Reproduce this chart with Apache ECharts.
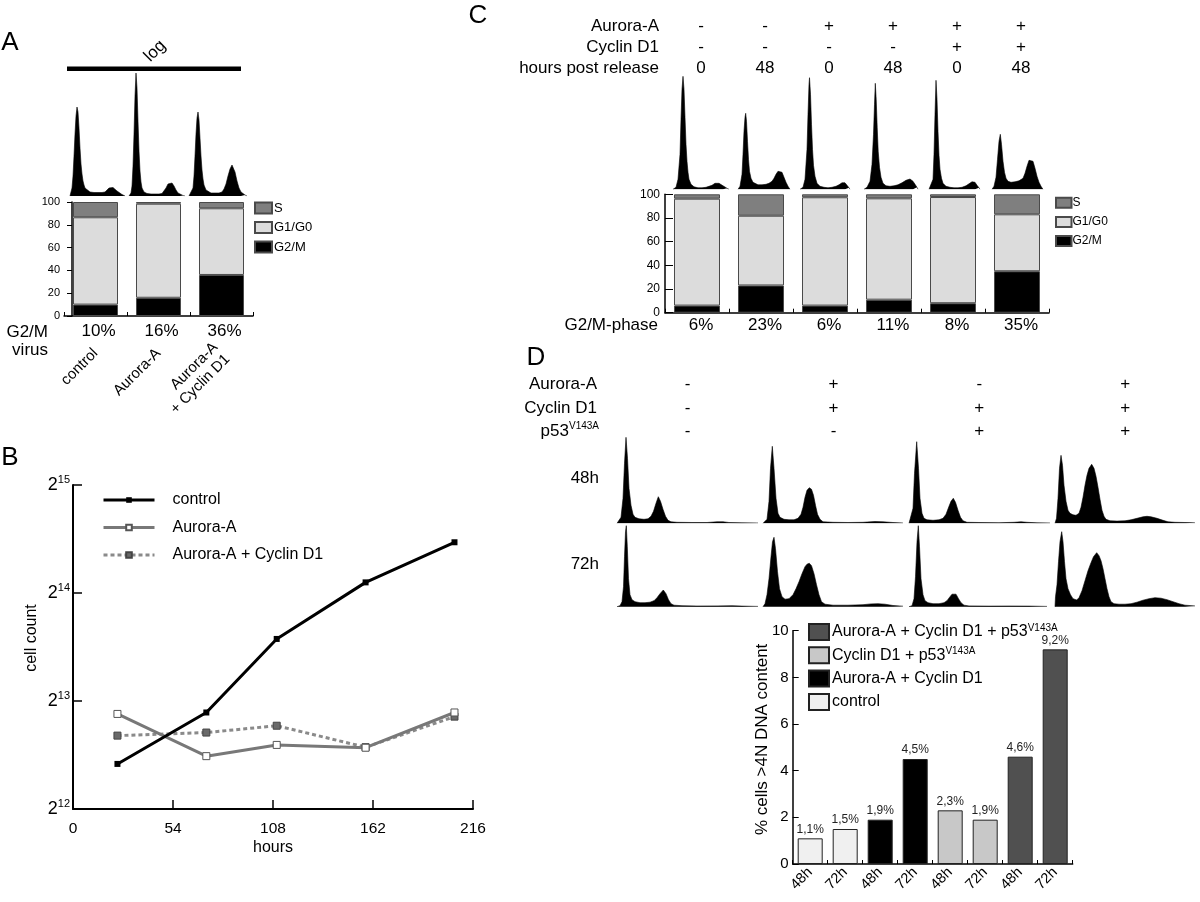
<!DOCTYPE html>
<html><head><meta charset="utf-8">
<script src="https://cdn.jsdelivr.net/npm/echarts@6/dist/echarts.min.js"></script>
<style>html,body{margin:0;padding:0;background:#fff}#c{width:1200px;height:902px}</style>
</head><body><div id="c"></div>
<script>
// ================= DATA =================
// ---- Panel A : cell-cycle distribution per virus ----
const aCategories = ['control', 'Aurora-A', 'Aurora-A\n+ Cyclin D1'];
const aG2M  = [10, 16, 36];
const aG1G0 = [76.6, 82.5, 58.5];
const aS    = [13.4, 1.5, 5.5];
const aG2MLabels = ['10%', '16%', '36%'];
const phaseNames = ['S', 'G1/G0', 'G2/M'];
// DNA histograms (channel, count) for panel A
const histA1 = [[0,0],[1,2],[2,8],[3,20],[4,40],[5,62],[6,80],[7,89],[8,84],[9,68],[10,48],[11,32],[12,22],[13,15],[14,11],[15,8],[17,6],[20,4],[24,3.5],[28,3.5],[32,3.5],[35,4],[37,6],[39,8],[41,9],[43,8.5],[45,7],[47,5],[49,3],[52,1.5],[55,0]];
const histA2 = [[0,0],[2,3],[3,10],[4,30],[5,62],[6,100],[7,123],[8,108],[9,75],[10,45],[11,25],[12,14],[13,8],[15,4],[18,2.5],[22,2],[26,2],[30,2],[33,2.5],[35,4],[37,8],[39,12],[41,14],[43,13],[45,10],[47,6],[49,3],[51,1.5],[54,0.5],[56,0]];
const histA3 = [[0,0],[2,2],[4,8],[5,20],[6,40],[7,62],[8,78],[9,84],[10,76],[11,58],[12,40],[13,26],[14,17],[15,11],[17,6],[19,4],[22,3],[26,3],[30,3],[33,4],[35,7],[37,12],[39,20],[41,27],[43,31],[44,30],[46,24],[48,15],[50,8],[52,4],[54,2],[56,1],[58,0]];

// ---- Panel B : growth curves ----
const bHours = [24, 72, 110, 158, 206];
const bControl      = [5470, 7610, 12200, 17540, 22690];
const bAurora       = [7540, 5750, 6180, 6070, 7610];
const bAuroraCyclin = [6560, 6690, 6990, 6090, 7410];
const bSeriesNames  = ['control', 'Aurora-A', 'Aurora-A + Cyclin D1'];
const bXTicks = [0, 54, 108, 162, 216];
const bYExponents = ['12', '13', '14', '15'];

// ---- Panel C : release from arrest ----
const cRowNames = ['Aurora-A', 'Cyclin D1', 'hours post release'];
const cAurora = ['-', '-', '+', '+', '+', '+'];
const cCyclin = ['-', '-', '-', '-', '+', '+'];
const cHours  = ['0', '48', '0', '48', '0', '48'];
const cG2M  = [6, 23, 6, 11, 8, 35];
const cG1G0 = [90.3, 58.9, 91.5, 85.6, 89.7, 48.1];
const cS    = [3.7, 18.1, 2.5, 3.4, 2.3, 16.9];
const cG2MLabels = ['6%', '23%', '6%', '11%', '8%', '35%'];
const histC1 = [[0,0],[3,2],[5,10],[7,35],[8,70],[9,100],[10,113],[11,100],[12,72],[13,45],[14,28],[15,17],[16,10],[18,5],[21,2.5],[25,1.5],[29,1.5],[33,2],[36,3],[39,4],[42,6],[44,6.7],[46,6],[48,5],[50,3.5],[52,2],[54,1],[56,0]];
const histC2 = [[0,0],[2,3],[4,15],[5,35],[6,58],[7,72],[7.7,76],[8.5,68],[9.5,48],[10.5,30],[11.5,18],[13,11],[15,7],[17,5],[20,4.5],[24,4.5],[28,5],[31,6],[34,8],[36,11],[38,15],[40,18],[42,19.3],[44,17],[46,12],[48,7],[50,3],[52,0]];
const histC3 = [[0,0],[3,2],[5,10],[7,40],[8,75],[9,105],[9.5,111.6],[10.5,95],[11.5,65],[12.5,40],[13.5,24],[15,13],[17,6],[20,3],[24,2],[28,1.5],[32,2],[36,3],[39,4.5],[42,6.5],[43.5,7.6],[45,6.5],[47,4],[49,1.5],[50,0]];
const histC4 = [[0,0],[3,2],[6,8],[8,25],[9.5,55],[10.5,85],[11.3,106],[12.2,90],[13.2,62],[14.2,38],[15.5,22],[17,12],[19,6],[22,3.5],[26,3],[30,3.5],[34,4.5],[38,6.5],[42,9],[46,10.3],[49,8],[51,5],[53,2],[54,0]];
const histC5 = [[0,0],[2,2],[4,10],[5,35],[6,75],[7,109],[8,90],[9,58],[10,34],[11,20],[12.5,11],[14,6],[17,3],[21,2],[25,1.5],[29,1.5],[33,2],[37,3.5],[40,5.5],[43,7.5],[44.5,8],[46,7],[48,4],[50,1.5],[51,0]];
const histC6 = [[0,0],[2,3],[4,12],[5.5,30],[7,48],[8.3,55],[9.5,45],[11,28],[12.5,17],[14,11],[16,8],[19,7],[23,7.5],[27,8.5],[31,11],[33,16],[35,23],[37,29],[39,31],[41,28],[43,21],[45,13],[47,7],[49,3],[51,0]];

// ---- Panel D : polyploidy ----
const dRowNames = ['Aurora-A', 'Cyclin D1'];
const dAurora = ['-', '+', '-', '+'];
const dCyclin = ['-', '+', '+', '+'];
const dP53    = ['-', '-', '+', '+'];
const dTimeRows = ['48h', '72h'];
const dGroups = ['control', 'Aurora-A + Cyclin D1', 'Cyclin D1 + p53^V143A', 'Aurora-A + Cyclin D1 + p53^V143A'];
const dGroupOfBar = [0, 0, 1, 1, 2, 2, 3, 3];
const dTimes  = ['48h', '72h', '48h', '72h', '48h', '72h', '48h', '72h'];
const dValues = [1.1, 1.5, 1.9, 4.5, 2.3, 1.9, 4.6, 9.2];
const dLabels = ['1,1%', '1,5%', '1,9%', '4,5%', '2,3%', '1,9%', '4,6%', '9,2%'];
const histD48a = [[0,0],[2,1],[4,6],[6,25],[7.5,60],[9,86],[10.5,65],[12,35],[14,18],[16,9],[18,6],[22,4.5],[27,4],[31,4.5],[34,7],[36.5,12],[39,20],[41.3,26.6],[43.5,22],[46,14],[48.5,7],[51,3],[54,1.5],[60,1],[75,0.8],[90,0.8],[100,1.5],[106,1.5],[112,0.8],[125,0.5],[141,0.3]];
const histD48b = [[0,0],[2,0.5],[4,4],[6,22],[7.5,55],[9.3,77],[11,55],[13,25],[15,10],[17,6],[21,4],[26,3.5],[31,3.5],[35,5],[38,9],[40,16],[42,26],[44,33],[46.3,35.6],[48.5,34],[50.5,28],[52.5,18],[54.5,9],[57,4],[60,1.5],[70,1],[85,0.8],[100,1],[112,1.8],[120,1.5],[130,0.8],[140,0.3]];
const histD48c = [[0,0],[2,2],[4,15],[5.5,50],[7.7,81.6],[9.5,55],[11,25],[13,10],[15,5],[18,3.5],[24,3],[30,3.5],[34,5],[37,9],[40,17],[42,22],[44.3,25],[46.5,21],[49,13],[51.5,6],[54,2.5],[58,1],[70,0.8],[90,0.6],[105,1],[112,1.5],[118,1],[128,0.5],[141,0.3]];
const histD48d = [[0,0],[1.5,5],[3,25],[4.5,55],[6,68],[7.5,58],[9,38],[11,22],[13,13],[15,10],[18,8.5],[21,8],[24,10],[26,16],[28,26],[30,38],[32,48],[34,55],[36.7,59],[39,55],[41,47],[43,36],[45,24],[47,13],[49,7],[51,4],[55,2.5],[62,2.2],[70,2.5],[76,3.5],[82,5],[88,6.5],[92,7],[96,6.5],[102,5],[108,3],[113,1.5],[120,1],[130,0.8],[140,0.5]];
const histD72a = [[0,0],[3,1],[5,5],[6.5,20],[7.5,50],[8.5,75],[9.3,81],[10.3,60],[11.5,28],[13,12],[15,7],[18,5],[23,4],[28,4],[33,4.5],[37,6],[40,9],[43,13],[46.3,16.7],[49,13],[51.5,7],[54,3],[57,1.5],[65,1],[80,0.7],[100,0.8],[115,1],[125,0.6],[141,0.3]];
const histD72b = [[0,0],[2,3],[4,12],[6,28],[8,50],[9.5,65],[11,69.4],[12.5,58],[14.5,35],[16.5,18],[19,10],[22,7.5],[26,8],[30,12],[33,18],[36,25],[39,33],[42,40],[44,42.5],[46.3,43.4],[48.5,41],[51,33],[53.5,22],[56,12],[58.5,5],[62,2.5],[70,1.5],[85,1.5],[100,2],[108,2.8],[115,3],[122,2.5],[130,1.2],[140,0.5]];
const histD72c = [[0,0],[3,1],[5,8],[6.5,30],[8,65],[9.3,81],[10.5,60],[12,28],[14,12],[16,6],[19,4],[24,3],[30,3],[35,4],[38,6],[41,10],[43,12.5],[45,14],[47,12.5],[49.5,8],[52,4],[55,1.5],[60,0.8],[80,0.6],[100,0.7],[120,0.6],[138,0.3]];
const histD72d = [[0,0],[0.5,10],[2,22],[3.5,45],[5,65],[6.7,75],[8,65],[9.5,45],[11,28],[13,18],[15.5,12],[18,8],[21.7,6.7],[24,9],[27,16],[30,26],[33,36],[36,44],[38.5,50],[41.7,54],[44,51],[46,46],[48,38],[50,28],[52,18],[54,10],[56,5],[59,3],[64,2.5],[70,2.5],[76,3],[82,4.5],[88,6.5],[94,8],[100,9],[106,8.5],[112,7],[118,5],[124,3],[130,1.5],[140,0.8]];

// ================= LAYOUT / STYLE =================
const FONT = '"Liberation Sans", Arial, sans-serif';
const phaseColors = { 'S': '#7f7f7f', 'G1/G0': '#dcdcdc', 'G2/M': '#000000' };
const dColors = ['#f0f0f0', '#000000', '#c8c8c8', '#505050'];
const D_PREFIX = 'D: ';

const grids = [], xAxes = [], yAxes = [], series = [], legends = [], graphics = [];
function addGrid(g){ grids.push(Object.assign({containLabel:false, outerBoundsMode:'none'}, g)); return grids.length-1; }
function addX(a){ xAxes.push(a); return xAxes.length-1; }
function addY(a){ yAxes.push(a); return yAxes.length-1; }
const line = (w) => ({show:true, lineStyle:{color:'#000', width:w}});

function addHist(data, left, base, w, h){
  const gi = addGrid({left:left, top:base-h, width:w, height:h});
  const xi = addX({gridIndex:gi, type:'value', min:0, max:w, show:false});
  const yi = addY({gridIndex:gi, type:'value', min:0, max:h, show:false});
  series.push({type:'line', xAxisIndex:xi, yAxisIndex:yi, data:data, symbol:'none', silent:true,
    lineStyle:{color:'#000', width:0.6}, areaStyle:{color:'#000', opacity:1}});
}
function txt(text, x, y, size, align, extra){
  const el = {type:'text', x:x, y:y, silent:true,
    style:{text:text, fontSize:size, fontFamily:FONT, fill:'#000',
      align:align||'center', textAlign:align||'center', verticalAlign:'middle', textVerticalAlign:'middle'}};
  if (extra) { if (extra.rotation) el.rotation = extra.rotation; if (extra.rich) el.style.rich = extra.rich; }
  graphics.push(el);
}

// ---------- Panel A ----------
txt('A', 10, 43, 26);
txt('log', 155, 51, 17, 'center', {rotation: Math.PI/4});
graphics.push({type:'rect', shape:{x:67, y:66.5, width:174, height:4.5}, style:{fill:'#000'}, silent:true});
[[histA1,70,56],[histA2,129,56],[histA3,189,58]].forEach(h => addHist(h[0], h[1], 196, h[2], 130));
(function(){
  const gi = addGrid({left:64, top:202, width:189, height:114});
  const xi = addX({gridIndex:gi, type:'category', data:aCategories, boundaryGap:true,
    axisLine:line(1.5), axisTick:{show:true, inside:true, length:4, lineStyle:{color:'#000'}},
    axisLabel:{interval:0, rotate:45, margin:35, fontSize:15, lineHeight:17, color:'#000', fontFamily:FONT}});
  addX({gridIndex:gi, type:'category', data:aCategories, position:'bottom', axisLine:{show:false}, axisTick:{show:false},
    axisLabel:{interval:0, margin:7, fontSize:17, color:'#000', fontFamily:FONT, padding:[0,0,0,6],
      formatter:(v,i)=>aG2MLabels[i]}});
  const yi = addY({gridIndex:gi, type:'value', min:0, max:100, interval:20, offset:-8,
    axisLine:line(1.5), axisTick:{show:true, length:5, lineStyle:{color:'#000'}}, splitLine:{show:false},
    axisLabel:{margin:12, fontSize:11, color:'#000', fontFamily:FONT}});
  [['G2/M',aG2M],['G1/G0',aG1G0],['S',aS]].forEach(s => series.push({type:'bar', name:s[0], stack:'A',
    xAxisIndex:xi, yAxisIndex:yi, data:s[1], barWidth:45,
    itemStyle:{color:phaseColors[s[0]], borderColor:'#4a4a4a', borderWidth:1}}));
})();
legends.push({data:phaseNames, orient:'vertical', left:254, top:201.5, itemWidth:17, itemHeight:11, itemGap:6.5,
  icon:'rect', padding:0, selectedMode:false, textStyle:{fontSize:13, lineHeight:11, color:'#000', fontFamily:FONT, padding:[0,0,0,-3]}});
txt('G2/M', 48, 332, 17, 'right');
txt('virus', 48, 350, 17, 'right');

// ---------- Panel B ----------
txt('B', 10, 458, 26);
(function(){
  const gi = addGrid({left:73, top:485, width:400, height:324});
  const xi = addX({gridIndex:gi, type:'value', min:bXTicks[0], max:bXTicks[bXTicks.length-1], interval:bXTicks[1]-bXTicks[0],
    axisLine:line(2), axisTick:{show:true, inside:true, length:9, lineStyle:{color:'#000', width:1.5}}, splitLine:{show:false},
    axisLabel:{margin:12, fontSize:15.5, color:'#000', fontFamily:FONT},
    name:'hours', nameLocation:'middle', nameGap:31, nameMoveOverlap:false, nameTextStyle:{fontSize:16, color:'#000', fontFamily:FONT}});
  const yi = addY({gridIndex:gi, type:'log', logBase:2, min:4096, max:32768,
    axisLine:line(2), axisTick:{show:true, inside:true, length:9, lineStyle:{color:'#000', width:1.5}}, splitLine:{show:false},
    minorTick:{show:false},
    axisLabel:{margin:3, color:'#000', fontFamily:FONT,
      formatter:(v)=>{ const e = Math.round(Math.log2(v)); const k = bYExponents.indexOf(String(e)); return '{b|2}{s|' + (k>=0?bYExponents[k]:e) + '}'; },
      rich:{b:{fontSize:18, lineHeight:22, fontFamily:FONT, color:'#000'}, s:{fontSize:11, lineHeight:12, verticalAlign:'top', fontFamily:FONT, color:'#000'}}},
    name:'cell count', nameLocation:'middle', nameGap:33, nameMoveOverlap:false,
    nameTextStyle:{fontSize:16, color:'#000', fontFamily:FONT, padding:[0,0,0,18]}});
  const zip = (ys) => bHours.map((h,i)=>[h, ys[i]]);
  series.push({type:'line', name:bSeriesNames[0], xAxisIndex:xi, yAxisIndex:yi, data:zip(bControl),
    symbol:'rect', symbolSize:6, itemStyle:{color:'#000'}, lineStyle:{color:'#000', width:3}, z:5});
  series.push({type:'line', name:bSeriesNames[1], xAxisIndex:xi, yAxisIndex:yi, data:zip(bAurora),
    symbol:'rect', symbolSize:7, itemStyle:{color:'#fff', borderColor:'#555', borderWidth:1}, lineStyle:{color:'#787878', width:3}, z:4});
  series.push({type:'line', name:bSeriesNames[2], xAxisIndex:xi, yAxisIndex:yi, data:zip(bAuroraCyclin),
    symbol:'rect', symbolSize:7, itemStyle:{color:'#6a6a6a', borderColor:'#444', borderWidth:1}, lineStyle:{color:'#8a8a8a', width:3, type:[4,3]}, z:3});
})();
legends.push({data:bSeriesNames, orient:'vertical', left:102, top:492, itemWidth:51, itemHeight:7, itemGap:11.5,
  padding:0, selectedMode:false, lineStyle:{width:3},
  textStyle:{fontSize:16, lineHeight:16, color:'#000', fontFamily:FONT, padding:[0,0,0,13]}});

// ---------- Panel C ----------
txt('C', 478, 16, 26);
const cColX0 = 701, cColStep = 64;
[[cRowNames[0],cAurora,26.7],[cRowNames[1],cCyclin,47.7],[cRowNames[2],cHours,68.3]].forEach(r => {
  txt(r[0], 659, r[2], 17, 'right');
  r[1].forEach((v,i)=>txt(v, cColX0 + i*cColStep, r[2], 17));
});
[[histC1,673,56],[histC2,738,52],[histC3,800,50],[histC4,864,54],[histC5,929,51],[histC6,992,51]]
  .forEach(h => addHist(h[0], h[1], 189.3, h[2], 120));
(function(){
  const idx = cG2M.map((_,i)=>i);
  const gi = addGrid({left:665, top:194.3, width:384, height:118.4});
  const xi = addX({gridIndex:gi, type:'category', data:idx, boundaryGap:true,
    axisLine:line(1.5), axisTick:{show:true, inside:true, length:4, lineStyle:{color:'#000'}}, axisLabel:{show:false}});
  addX({gridIndex:gi, type:'category', data:idx, position:'bottom', axisLine:{show:false}, axisTick:{show:false},
    axisLabel:{interval:0, margin:4.5, fontSize:17, color:'#000', fontFamily:FONT, padding:[0,0,0,8],
      formatter:(v,i)=>cG2MLabels[i]}});
  const yi = addY({gridIndex:gi, type:'value', min:0, max:100, interval:20,
    axisLine:line(1.5), axisTick:{show:true, inside:true, length:8, lineStyle:{color:'#000'}}, splitLine:{show:false},
    axisLabel:{margin:5, fontSize:12, color:'#000', fontFamily:FONT}});
  [['G2/M',cG2M],['G1/G0',cG1G0],['S',cS]].forEach(s => series.push({type:'bar', name:s[0], stack:'C',
    xAxisIndex:xi, yAxisIndex:yi, data:s[1], barWidth:46,
    itemStyle:{color:phaseColors[s[0]], borderColor:'#4a4a4a', borderWidth:1}}));
})();
legends.push({data:phaseNames, orient:'vertical', left:1055, top:196.7, itemWidth:15.5, itemHeight:10, itemGap:7.2,
  icon:'rect', padding:0, selectedMode:false, textStyle:{fontSize:12, lineHeight:10, color:'#000', fontFamily:FONT, padding:[0,0,0,-4]}});
txt('G2/M-phase', 658, 325.7, 17, 'right');

// ---------- Panel D ----------
txt('D', 536, 358, 26);
const dColX0 = 687.7, dColStep = 145.8;
const supRich = {n:{fontSize:17, lineHeight:20, fontFamily:FONT, color:'#000'}, s:{fontSize:10, lineHeight:10, verticalAlign:'top', fontFamily:FONT, color:'#000'}};
[[dRowNames[0],dAurora,384],[dRowNames[1],dCyclin,408.3]].forEach(r => {
  txt(r[0], 597, r[2], 17, 'right');
  r[1].forEach((v,i)=>txt(v, dColX0 + i*dColStep, r[2], 17));
});
txt('{n|p53}{s|V143A}', 599, 431, 17, 'right', {rich:supRich});
dP53.forEach((v,i)=>txt(v, dColX0 + i*dColStep, 431.5, 17));
txt(dTimeRows[0], 599, 478.3, 17, 'right');
txt(dTimeRows[1], 599, 564, 17, 'right');
const dHistLeft = [617, 763, 909, 1055];
[histD48a, histD48b, histD48c, histD48d].forEach((h,i)=>addHist(h, dHistLeft[i], 523.3, 141, 90));
[histD72a, histD72b, histD72c, histD72d].forEach((h,i)=>addHist(h, dHistLeft[i], 606.7, 141, 90));
(function(){
  const idx = dValues.map((_,i)=>i);
  const gi = addGrid({left:792.7, top:630.7, width:280, height:233.3});
  const xi = addX({gridIndex:gi, type:'category', data:idx, boundaryGap:true,
    axisLine:line(1.5), axisTick:{show:true, inside:true, length:4, lineStyle:{color:'#000'}},
    axisLabel:{interval:0, rotate:45, margin:6, fontSize:14.5, color:'#000', fontFamily:FONT, formatter:(v,i)=>dTimes[i]}});
  const yi = addY({gridIndex:gi, type:'value', min:0, max:10, interval:2,
    axisLine:line(1.5), axisTick:{show:true, inside:true, length:6, lineStyle:{color:'#000'}}, splitLine:{show:false},
    axisLabel:{margin:4, fontSize:15, color:'#000', fontFamily:FONT},
    name:'% cells >4N DNA content', nameLocation:'middle', nameGap:22, nameMoveOverlap:false,
    nameTextStyle:{fontSize:17, color:'#000', fontFamily:FONT, padding:[0,0,0,16]}});
  dGroups.forEach((g,gIdx) => series.push({type:'bar', name:D_PREFIX + g, stack:'D', xAxisIndex:xi, yAxisIndex:yi, barWidth:25,
    data: dValues.map((v,i)=> dGroupOfBar[i]===gIdx ? v : '-'),
    itemStyle:{color:dColors[gIdx], borderColor:'#222', borderWidth:1},
    label:{show:true, position:'top', distance:3, fontSize:12, color:'#222', fontFamily:FONT, formatter:(p)=>dLabels[p.dataIndex]}}));
})();
legends.push({data:[3,2,1,0].map(k => D_PREFIX + dGroups[k]), orient:'vertical', left:808, top:623,
  itemWidth:20, itemHeight:16, itemGap:5.3, icon:'rect', padding:0, selectedMode:false,
  formatter:(full)=>{ const name = full.slice(D_PREFIX.length); const k = name.indexOf('^');
    return k<0 ? '{n|'+name+'}' : '{n|'+name.slice(0,k)+'}{s|'+name.slice(k+1)+'}'; },
  textStyle:{fontSize:16, lineHeight:18, color:'#000', fontFamily:FONT, padding:[0,0,0,-2],
    rich:{n:{fontSize:16, lineHeight:18, fontFamily:FONT, color:'#000'}, s:{fontSize:10, lineHeight:10, verticalAlign:'top', fontFamily:FONT, color:'#000'}}}});

// ================= CHART =================
const chart = echarts.init(document.getElementById('c'), null, {renderer:'canvas'});
chart.setOption({
  backgroundColor:'#fff', animation:false,
  textStyle:{fontFamily:FONT, color:'#000'},
  tooltip:{show:false},
  grid:grids, xAxis:xAxes, yAxis:yAxes, series:series, legend:legends,
  graphic:{elements:graphics}
});
</script></body></html>
